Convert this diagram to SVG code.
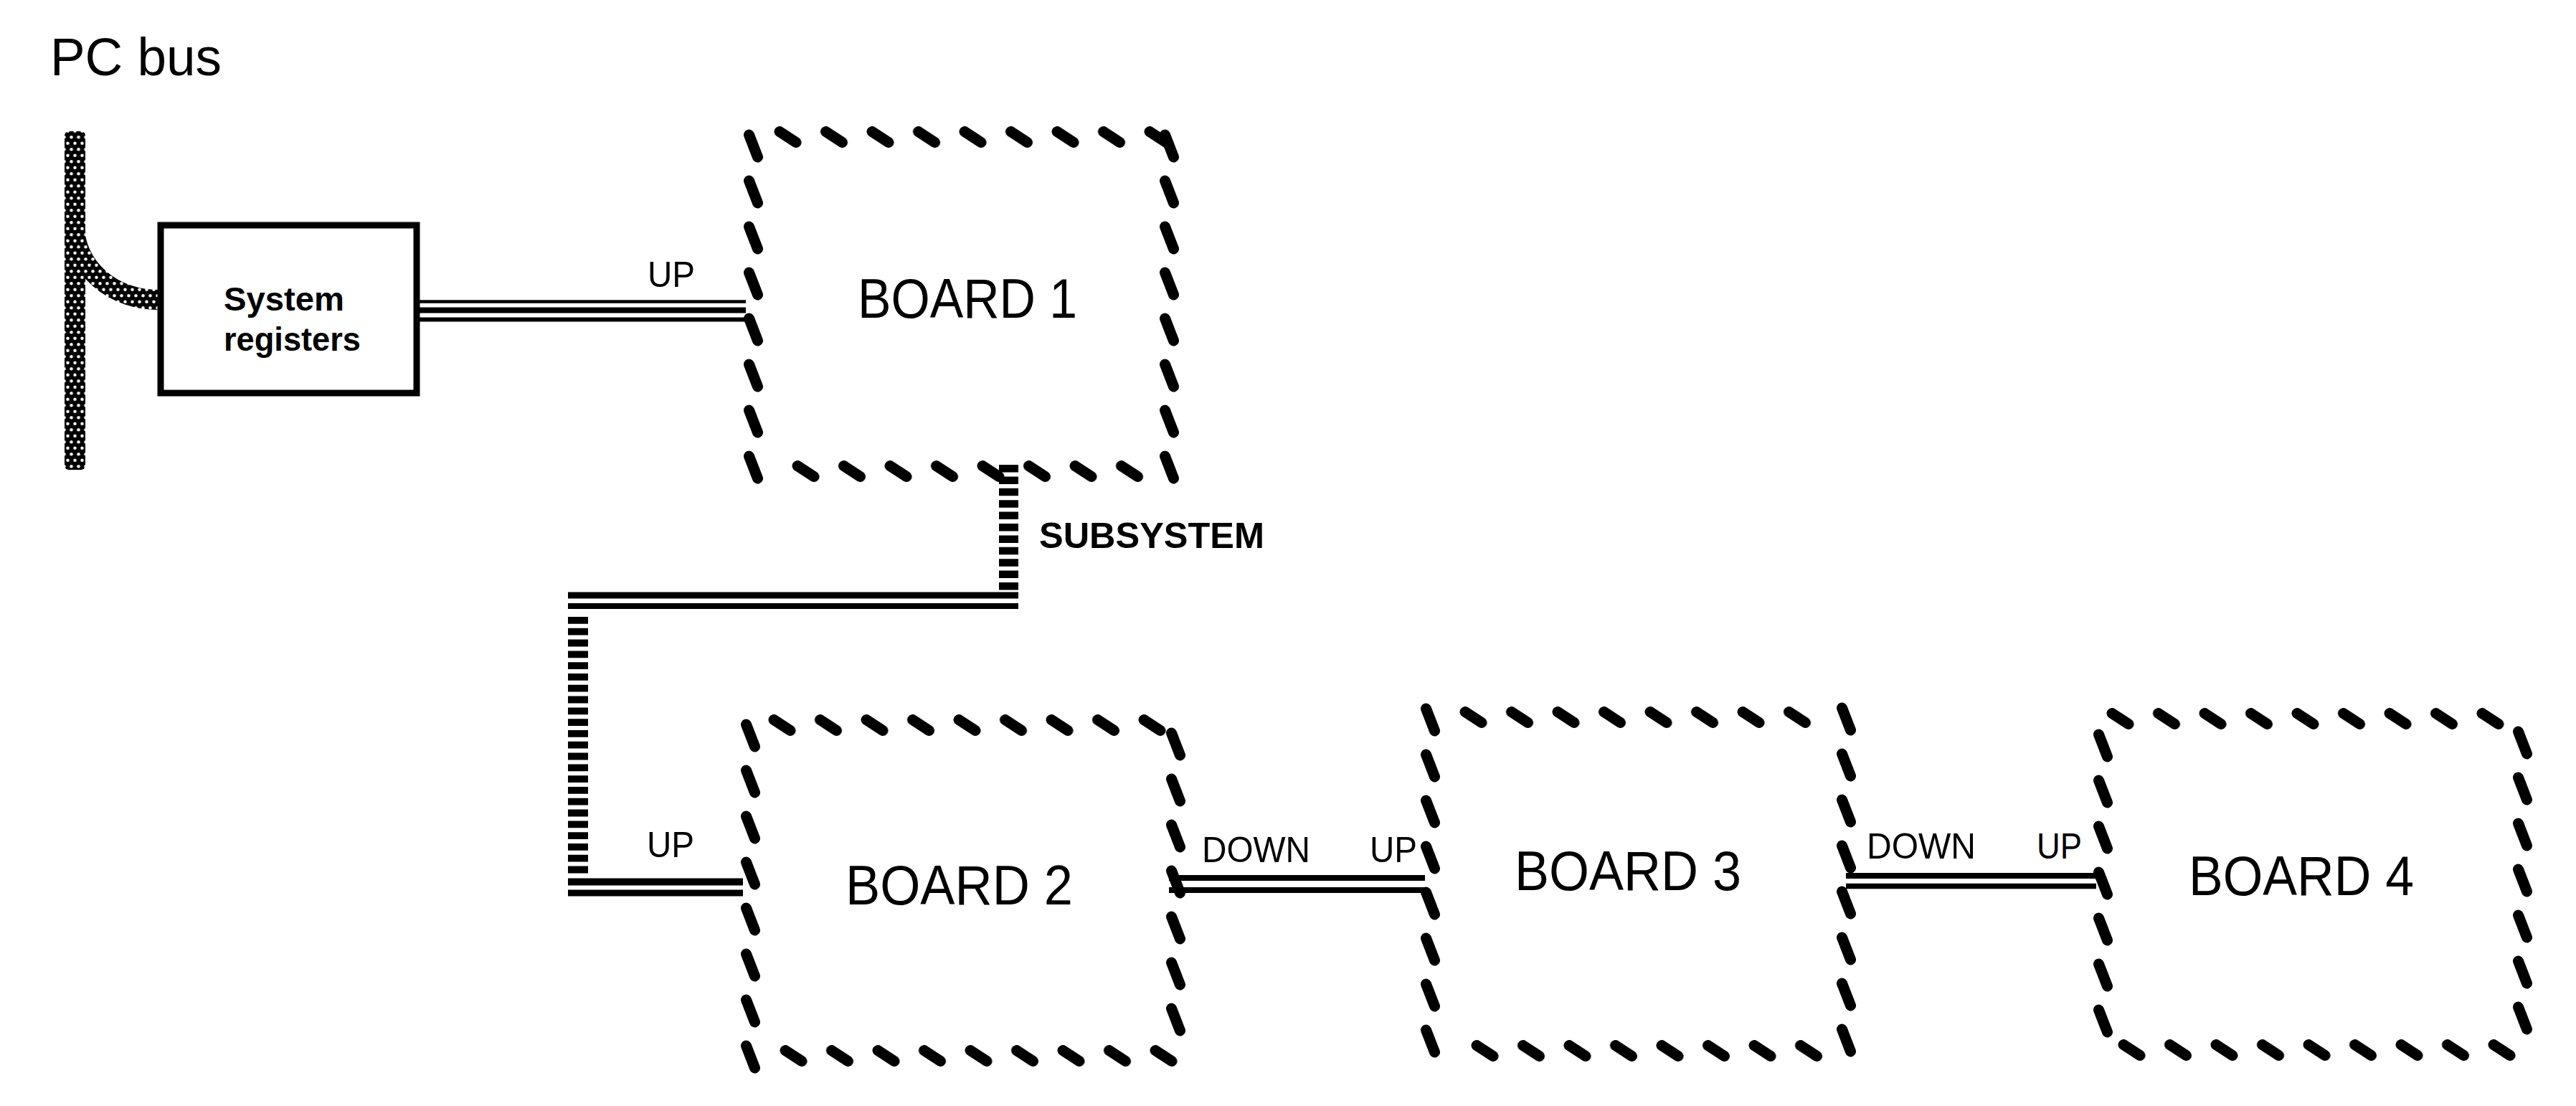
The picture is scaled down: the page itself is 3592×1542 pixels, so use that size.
<svg xmlns="http://www.w3.org/2000/svg" width="3592" height="1542" viewBox="0 0 3592 1542">
<defs>
<style>
text{font-family:"Liberation Sans",Arial,Helvetica,sans-serif;fill:#000}
.title{font-size:74px}
.sys{font-size:46px;font-weight:bold}
.lbl{font-size:50px}
.sub{font-size:50px;font-weight:bold}
.bname{font-size:77px}
.ht{fill:url(#hp)}
.vt{fill:url(#vp)}
.wire{stroke:#000;fill:none}
.ladder{stroke:#000;fill:none}
</style>
<pattern id="hp" patternUnits="userSpaceOnUse" width="64.5" height="30">
<path d="M9 7.5L32 22.5" stroke="#000" stroke-width="15" stroke-linecap="round"/>
</pattern>
<pattern id="vp" patternUnits="userSpaceOnUse" width="30" height="64">
<path d="M8.5 8L20.5 39" stroke="#000" stroke-width="15" stroke-linecap="round"/>
</pattern>
<pattern id="chain" patternUnits="userSpaceOnUse" x="4.5" width="10" height="17">
<rect width="10" height="17" fill="#000"/>
<circle cx="5" cy="4.25" r="2.2" fill="#fff"/>
<circle cx="0" cy="12.75" r="2.2" fill="#fff"/>
<circle cx="10" cy="12.75" r="2.2" fill="#fff"/>
</pattern>
</defs>
<rect width="3592" height="1542" fill="#fff"/>

<g id="pc-bus">
<text class="title" x="70" y="105" textLength="239" lengthAdjust="spacingAndGlyphs">PC bus</text>
<rect x="90" y="183" width="29" height="472" rx="6" fill="url(#chain)"/>
<path d="M104 315A116 103 0 0 0 222 418" stroke="url(#chain)" stroke-width="28" fill="none"/>
</g>

<g id="system-registers">
<rect x="224" y="314" width="357" height="234" fill="#fff" stroke="#000" stroke-width="9"/>
<text class="sys" x="312" y="433" textLength="168" lengthAdjust="spacingAndGlyphs">System</text>
<text class="sys" x="312" y="489" textLength="191" lengthAdjust="spacingAndGlyphs">registers</text>
</g>

<g id="connectors">
<g id="link-sys-board1">
<path class="wire" d="M585 420.5H1040" stroke-width="4.5"/>
<path class="wire" d="M585 432.5H1040" stroke-width="8"/>
<path class="wire" d="M585 445.5H1040" stroke-width="6"/>
<text class="lbl" x="903" y="400" textLength="66" lengthAdjust="spacingAndGlyphs">UP</text>
</g>
<g id="link-subsystem">
<path class="ladder" d="M1406.5 648V825" stroke-width="27" stroke-dasharray="10.5 5.9"/>
<path class="wire" d="M792 830H1420" stroke-width="9"/>
<path class="wire" d="M792 845H1420" stroke-width="8"/>
<path class="ladder" d="M806 860V1219" stroke-width="28" stroke-dasharray="9.8 6"/>
<path class="wire" d="M792 1229.5H1036" stroke-width="10"/>
<path class="wire" d="M792 1245H1036" stroke-width="9"/>
<text class="sub" x="1449" y="764" textLength="314" lengthAdjust="spacingAndGlyphs">SUBSYSTEM</text>
<text class="lbl" x="902" y="1195" textLength="66" lengthAdjust="spacingAndGlyphs">UP</text>
</g>
<g id="link-board2-board3">
<path class="wire" d="M1630 1224H1987" stroke-width="8"/>
<path class="wire" d="M1630 1241H1987" stroke-width="8"/>
<text class="lbl" x="1676" y="1202" textLength="151" lengthAdjust="spacingAndGlyphs">DOWN</text>
<text class="lbl" x="1910" y="1202" textLength="66" lengthAdjust="spacingAndGlyphs">UP</text>
</g>
<g id="link-board3-board4">
<path class="wire" d="M2574 1221H2923" stroke-width="8"/>
<path class="wire" d="M2574 1235.5H2923" stroke-width="7.5"/>
<text class="lbl" x="2603" y="1197" textLength="152" lengthAdjust="spacingAndGlyphs">DOWN</text>
<text class="lbl" x="2840" y="1197" textLength="63" lengthAdjust="spacingAndGlyphs">UP</text>
</g>
</g>

<g id="board1">
<rect class="ht" transform="translate(1078,176)" width="564" height="30"/>
<rect class="ht" transform="translate(1103,642)" width="499.5" height="30"/>
<rect class="vt" transform="translate(1036,180)" width="30" height="496"/>
<rect class="vt" transform="translate(1616,180)" width="30" height="496"/>
<text class="bname" x="1196" y="443" textLength="306" lengthAdjust="spacingAndGlyphs">BOARD 1</text>
</g>

<g id="board2">
<rect class="ht" transform="translate(1070,996)" width="564" height="30"/>
<rect class="ht" transform="translate(1086,1457)" width="564" height="30"/>
<rect class="vt" transform="translate(1032,1002)" width="30" height="496"/>
<rect class="vt" transform="translate(1625,1014)" width="30" height="432"/>
<text class="bname" x="1179" y="1261" textLength="317" lengthAdjust="spacingAndGlyphs">BOARD 2</text>
</g>

<g id="board3">
<rect class="ht" transform="translate(2034,985)" width="499.5" height="30"/>
<rect class="ht" transform="translate(2050,1450)" width="499.5" height="30"/>
<rect class="vt" transform="translate(1980,980)" width="30" height="496"/>
<rect class="vt" transform="translate(2560,979)" width="30" height="496"/>
<text class="bname" x="2112" y="1241" textLength="316" lengthAdjust="spacingAndGlyphs">BOARD 3</text>
</g>

<g id="board4">
<rect class="ht" transform="translate(2936,987)" width="564" height="30"/>
<rect class="ht" transform="translate(2952,1449)" width="564" height="30"/>
<rect class="vt" transform="translate(2918,1016)" width="30" height="432"/>
<rect class="vt" transform="translate(3503,1012)" width="30" height="432"/>
<text class="bname" x="3052" y="1248" textLength="314" lengthAdjust="spacingAndGlyphs">BOARD 4</text>
</g>
</svg>
